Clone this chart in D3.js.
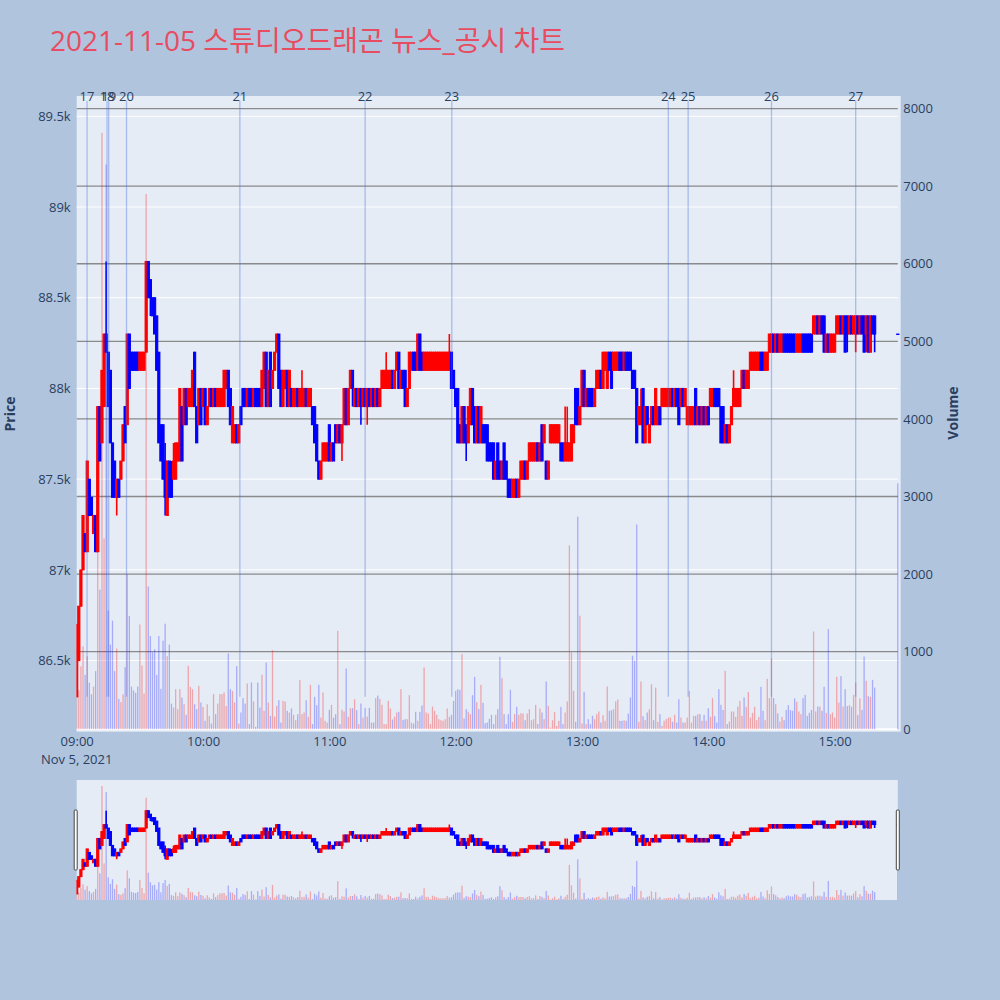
<!DOCTYPE html>
<html><head><meta charset="utf-8">
<script src="https://cdnjs.cloudflare.com/ajax/libs/d3/7.8.5/d3.min.js"></script>
<style>
body{margin:0;background:#b0c4de;}
svg{display:block;font-family:"Open Sans","Noto Sans CJK KR",sans-serif;}
</style>
</head><body>
<svg id="chart" width="1000" height="1000"></svg>
<script>
// ---------------- DATA ----------------
const chartTitle = "2021-11-05 스튜디오드래곤 뉴스_공시 차트";
const sessionDate = "2021-11-05";
const sessionStart = "09:00";          // first 1-minute candle
const closingAuctionTime = "15:30";    // last (closing auction) candle
const axisStart = "09:00", axisEnd = "15:30";

const openPrice = [
86300,86500,86800,87000,87200,87100,87500,87400,87200,87300,
87100,87900,87700,87900,88300,88200,88100,87700,87600,87400,
87500,87500,87600,87900,87800,88300,88200,88200,88200,88200,
88100,88100,88100,88200,88700,88600,88500,88500,88400,88200,
87800,87800,87600,87300,87600,87500,87500,87500,87600,87600,
87900,87800,88000,87900,87900,87900,88200,87900,87800,88000,
87900,88000,87800,87900,88000,87900,88000,87900,87900,87900,
87900,88000,88100,88000,87700,87700,87800,87700,87900,88000,
88000,87900,88000,88000,87900,88000,88000,88000,87900,88000,
88200,87900,88200,88000,88100,88200,88300,88100,87900,88000,
88100,87900,88000,87900,87900,88000,87900,87900,87900,88000,
87900,87900,87900,87900,87800,87600,87500,87600,87600,87600,
87800,87600,87700,87800,87700,87800,87700,87800,88000,87800,
88000,88100,87900,88000,87900,88000,87900,88000,87900,88000,
87900,88000,87900,88000,87900,88000,88000,88000,88000,88000,
88100,88000,88100,88200,88000,88100,88100,87900,88000,88100,
88200,88200,88100,88300,88200,88100,88100,88100,88100,88100,
88100,88100,88100,88100,88100,88100,88100,88100,88200,88100,
88000,88000,87800,87700,87900,87800,87700,87800,88000,87900,
87700,87900,87700,87800,87800,87800,87700,87700,87700,87500,
87700,87600,87500,87700,87600,87500,87500,87400,87400,87500,
87400,87500,87500,87600,87500,87600,87600,87600,87600,87700,
87600,87800,87700,87600,87500,87700,87700,87700,87700,87700,
87700,87700,87600,87600,87600,87600,87700,88000,88000,87800,
87900,88100,87900,88000,88000,88000,87900,88000,88000,88100,
88000,88100,88000,88200,88200,88100,88100,88100,88200,88200,
88100,88200,88200,88200,88100,88100,88000,87800,87800,88000,
87700,87900,87700,87800,87900,87800,87800,87900,87900,87900,
87900,87900,87900,88000,87900,88000,88000,87900,88000,87900,
87800,87800,87800,87800,88000,87800,87900,87800,87900,87800,
87900,87900,87900,88000,88000,88000,87900,87900,87700,87800,
87700,87800,87900,87900,87900,87900,88000,88100,88000,88000,
88100,88100,88100,88100,88100,88200,88200,88100,88100,88200,
88200,88300,88200,88300,88200,88200,88300,88300,88300,88300,
88300,88300,88200,88200,88200,88300,88300,88300,88300,88300,
88300,88300,88400,88300,88400,88400,88200,88300,88200,88200,
88200,88300,88300,88400,88300,88400,88400,88300,88400,88300,
88300,88400,88300,88400,88400,88300,88400,88200,88400,88400,
88300];

const highPrice = [
86700,86800,87000,87300,87200,87600,87500,87400,87300,87300,
87900,87900,88100,88300,88700,88200,88100,87700,87600,87500,
87500,87600,87800,87900,88300,88300,88200,88200,88200,88200,
88200,88200,88200,88700,88700,88600,88500,88500,88400,88200,
87800,87800,87700,87600,87600,87600,87700,87700,87700,88000,
87900,88000,88000,88000,88000,88100,88200,87900,88000,88000,
88000,88000,87900,88000,88000,88000,88000,88000,88000,88000,
88100,88100,88100,88000,87900,87800,87800,87800,87900,88000,
88000,88000,88000,88000,88000,88000,88000,88000,88100,88200,
88200,88100,88200,88100,88200,88300,88300,88100,88100,88100,
88100,88100,88000,88000,88000,88000,88000,88100,88000,88000,
88000,88000,87900,87900,87800,87600,87600,87700,87700,87700,
87800,87700,87700,87800,87800,87800,87800,88000,88000,88000,
88100,88100,88000,88000,88000,88000,88000,88000,88000,88000,
88000,88000,88000,88000,88000,88100,88100,88200,88100,88100,
88100,88100,88200,88200,88100,88100,88100,88000,88200,88200,
88200,88200,88300,88300,88200,88200,88200,88200,88200,88200,
88200,88200,88200,88200,88200,88200,88200,88300,88200,88100,
88000,88000,87800,87900,87900,87800,87900,88000,88000,87900,
87900,87900,87900,87800,87800,87800,87700,87700,87700,87600,
87700,87600,87600,87700,87600,87500,87500,87500,87500,87500,
87500,87600,87600,87600,87600,87700,87700,87700,87700,87700,
87700,87800,87800,87600,87600,87800,87800,87800,87800,87800,
87700,87700,87900,87900,87700,87800,87800,88000,88000,87900,
88100,88100,88000,88000,88000,88000,88000,88100,88100,88100,
88200,88200,88200,88200,88200,88200,88200,88200,88200,88200,
88200,88200,88200,88200,88100,88100,88000,87900,88000,88000,
87900,87900,87800,87900,87900,88000,87900,87900,88000,88000,
88000,88000,88000,88000,88000,88000,88000,88000,88000,88000,
87900,87900,87900,87900,88000,87900,87900,87900,87900,87900,
87900,88000,88000,88000,88000,88000,87900,87900,87800,87800,
87800,87900,88100,88000,88000,88000,88100,88100,88100,88100,
88200,88200,88200,88200,88200,88200,88200,88200,88200,88300,
88300,88300,88300,88300,88300,88300,88300,88300,88300,88300,
88300,88300,88300,88300,88300,88300,88300,88300,88300,88300,
88400,88400,88400,88400,88400,88400,88300,88300,88300,88300,
88300,88400,88400,88400,88400,88400,88400,88400,88400,88400,
88400,88400,88400,88400,88400,88400,88400,88400,88400,88400,
88300];

const lowPrice = [
86300,86500,86800,87000,87100,87100,87300,87300,87200,87100,
87100,87600,87700,87900,88200,87900,87700,87400,87400,87300,
87400,87500,87600,87700,87800,88000,88100,88100,88100,88100,
88100,88100,88100,88200,88500,88400,88400,88300,88100,87700,
87600,87500,87300,87300,87400,87400,87500,87500,87600,87600,
87600,87800,87800,87900,87900,87900,87900,87700,87800,87800,
87900,87800,87800,87900,87900,87900,87900,87900,87900,87900,
87900,88000,87900,87800,87700,87700,87700,87700,87800,87900,
87900,87900,87900,87900,87900,87900,87900,87900,87900,88000,
87900,87900,87900,88000,88100,88200,88000,87900,87900,88000,
87900,87900,87900,87900,87900,87900,87900,87900,87900,87900,
87900,87900,87800,87700,87600,87500,87500,87600,87600,87600,
87600,87600,87600,87700,87700,87700,87600,87800,87800,87800,
88000,87900,87900,87900,87900,87800,87900,87900,87800,87900,
87900,87900,87900,87900,87900,88000,88000,88000,88000,88000,
88000,88000,88100,88000,88000,88000,87900,87900,88000,88100,
88100,88100,88100,88100,88100,88100,88100,88100,88100,88100,
88100,88100,88100,88100,88100,88100,88100,88100,88000,88000,
87900,87700,87700,87700,87700,87600,87700,87800,87800,87700,
87700,87700,87700,87700,87700,87600,87600,87600,87500,87500,
87500,87500,87500,87500,87500,87400,87400,87400,87400,87400,
87400,87500,87500,87500,87500,87600,87600,87600,87600,87600,
87600,87600,87700,87500,87500,87700,87700,87700,87700,87700,
87600,87600,87600,87600,87600,87600,87700,87800,87800,87800,
87900,87900,87900,87900,87900,87900,87900,88000,88000,88000,
88000,88100,88000,88100,88000,88100,88100,88100,88100,88100,
88100,88100,88100,88100,88000,88000,87700,87800,87800,87700,
87700,87800,87700,87800,87800,87800,87800,87800,87900,87900,
87900,87900,87900,87900,87900,87900,87800,87900,87900,87900,
87800,87800,87800,87800,87800,87800,87800,87800,87800,87800,
87800,87900,87900,87900,87900,87900,87700,87700,87700,87700,
87700,87800,87900,87900,87900,87900,88000,88000,88000,88000,
88100,88100,88100,88100,88100,88100,88100,88100,88100,88200,
88200,88200,88200,88200,88200,88200,88200,88200,88200,88200,
88200,88200,88200,88200,88200,88200,88200,88200,88200,88200,
88300,88300,88300,88300,88300,88200,88200,88200,88200,88200,
88200,88300,88300,88300,88300,88200,88200,88300,88300,88300,
88200,88300,88300,88300,88200,88200,88200,88200,88300,88200,
88300];

const closePrice = [
86700,86800,87000,87300,87100,87600,87300,87300,87300,87100,
87900,87600,88100,88300,88200,87900,87700,87400,87400,87500,
87400,87600,87800,87700,88300,88000,88100,88100,88100,88100,
88200,88200,88200,88700,88500,88500,88400,88300,88100,87700,
87600,87500,87400,87600,87400,87400,87600,87700,87700,88000,
87600,88000,87800,88000,88000,88100,87900,87700,88000,87800,
88000,87800,87900,88000,87900,88000,87900,88000,88000,88000,
88100,88100,87900,87800,87900,87800,87700,87800,87800,87900,
87900,88000,87900,87900,88000,87900,87900,87900,88100,88200,
87900,88100,87900,88100,88200,88300,88000,87900,88100,88100,
87900,88100,87900,88000,88000,87900,88000,88000,88000,87900,
88000,88000,87800,87700,87600,87500,87600,87700,87700,87700,
87600,87700,87600,87700,87800,87700,87800,88000,87800,88000,
88100,88000,88000,87900,88000,87900,88000,87900,88000,87900,
88000,87900,88000,87900,88000,88100,88100,88100,88100,88100,
88000,88100,88200,88000,88100,88000,87900,88000,88200,88200,
88100,88100,88300,88100,88100,88200,88200,88200,88200,88200,
88200,88200,88200,88200,88200,88200,88200,88200,88000,88000,
87900,87700,87700,87900,87700,87700,87900,88000,87800,87700,
87900,87700,87900,87700,87700,87600,87600,87600,87500,87600,
87500,87500,87600,87500,87500,87400,87400,87500,87500,87400,
87500,87600,87600,87500,87600,87700,87700,87700,87700,87600,
87700,87600,87800,87500,87600,87800,87800,87800,87800,87800,
87600,87600,87700,87700,87700,87800,87800,87800,87800,87900,
88100,87900,88000,87900,87900,87900,88000,88100,88100,88000,
88200,88200,88200,88100,88000,88200,88200,88200,88100,88100,
88200,88100,88100,88100,88000,88000,87700,87900,87900,87700,
87900,87800,87800,87900,87800,88000,87900,87800,88000,88000,
88000,88000,88000,87900,88000,87900,87800,88000,87900,88000,
87900,87900,87900,87900,87800,87900,87800,87900,87800,87900,
87800,88000,88000,87900,87900,87900,87700,87700,87800,87700,
87800,87900,88000,88000,88000,88000,88100,88000,88100,88100,
88200,88200,88200,88200,88200,88100,88100,88200,88200,88300,
88300,88200,88300,88200,88300,88300,88200,88200,88200,88200,
88200,88200,88300,88300,88300,88200,88200,88200,88200,88200,
88400,88400,88300,88400,88300,88200,88300,88200,88300,88300,
88300,88400,88400,88300,88400,88200,88300,88400,88300,88400,
88400,88300,88400,88300,88200,88400,88200,88400,88300,88300,
88300];

const volume = [
1350,500,810,1066,700,940,600,450,550,750,
2930,1800,7690,2460,7280,1530,1090,1400,750,1040,
390,350,450,800,2000,1460,550,500,470,550,
1350,820,460,6900,1840,1200,990,1030,700,1200,
520,1140,1360,940,1090,330,280,516,258,516,
408,322,185,817,546,516,322,258,559,344,
288,108,322,172,73,452,194,331,452,452,
473,300,976,516,494,344,813,73,215,400,
331,589,65,602,357,30,602,280,701,237,
860,344,172,1019,163,301,374,86,365,357,
237,215,267,185,116,194,632,194,215,374,
159,572,65,417,310,572,150,473,108,86,
250,314,150,194,1268,65,250,228,783,159,
271,271,387,245,65,331,150,275,163,275,
86,86,400,434,391,314,65,65,365,267,
125,159,215,224,516,120,129,129,439,86,
73,224,108,224,305,795,215,202,65,292,
237,185,129,116,108,129,267,159,185,365,
494,516,507,967,138,258,224,194,439,675,
348,258,572,340,77,86,133,185,65,185,
258,933,658,194,65,194,507,95,194,288,
185,206,202,116,202,258,116,129,314,65,
267,215,129,615,301,22,116,224,43,108,
288,65,215,357,2370,989,494,95,2740,1462,
73,482,65,129,65,172,129,194,228,86,
181,108,550,237,245,258,357,383,108,108,
116,108,202,409,946,882,2640,95,615,168,
116,215,258,580,116,537,95,194,43,108,
129,150,150,95,185,86,387,150,86,86,
150,494,86,172,172,194,194,108,185,108,
271,159,400,168,86,516,314,249,752,65,
99,228,228,159,292,365,172,409,288,481,
150,211,288,116,159,546,237,116,649,400,
912,400,322,202,99,159,116,249,310,245,
237,396,353,228,194,400,443,172,211,249,
1260,228,292,292,237,546,211,1290,194,215,
150,675,344,684,292,516,297,310,288,443,
602,181,396,249,937,624,426,417,636,537,
3170];

const newsLabels = ["17","18","19","20","21","22","23","24","25","26","27"];
const newsTimes  = ["09:04:55","09:14:24","09:15:12","09:23:40","10:17:30","11:17:00",
                    "11:58:10","13:41:00","13:50:25","14:30:00","15:10:00"];

const priceTicks = [86500,87000,87500,88000,88500,89000,89500];
const priceTickLabels = ["86.5k","87k","87.5k","88k","88.5k","89k","89.5k"];
const volumeTicks = [0,1000,2000,3000,4000,5000,6000,7000,8000];
const timeTicks = ["09:00","10:00","11:00","12:00","13:00","14:00","15:00"];
const firstTickDateLabel = "Nov 5, 2021";

// ---------------- LAYOUT ----------------
const W = 1000, H = 1000;
const plot = {left: 76.7, right: 900.7, top: 96, bottom: 731.7};
const xRight = 897.8;
const slider = {left: 76.7, right: 897.8, top: 780, bottom: 900};
const upColor = "#ff0000", downColor = "#0000ff";
const textColor = "#2a3f5f";

const parseHM = d3.timeParse("%Y-%m-%d %H:%M");
const parseHMS = d3.timeParse("%Y-%m-%d %H:%M:%S");
const t0 = parseHM(sessionDate + " " + sessionStart);
const nCont = openPrice.length - 1;
const data = openPrice.map((o, i) => ({
  t: i < nCont ? d3.timeMinute.offset(t0, i) : parseHM(sessionDate + " " + closingAuctionTime),
  o, h: highPrice[i], l: lowPrice[i], c: closePrice[i], v: volume[i]
}));

const x = d3.scaleTime()
  .domain([parseHM(sessionDate + " " + axisStart), parseHM(sessionDate + " " + axisEnd)])
  .range([plot.left, xRight]);
const yP = d3.scaleLinear().domain([86500, 89500]).range([660.6, 116.3]);
const yV = d3.scaleLinear().domain([0, 8000]).range([729.2, 108.6]);
const xS = x.copy().range([slider.left, slider.right]);
const ySP = d3.scaleLinear().domain([86300, 88700]).range([894, 810.7]);
const ySV = d3.scaleLinear().domain([0, 8000]).range([900, 781.4]);

const svg = d3.select("#chart");
svg.append("rect").attr("width", W).attr("height", H).attr("fill", "#b0c4de");

// title
svg.append("text").attr("x", 50).attr("y", 51)
  .attr("font-size", 28).attr("fill", "rgb(232,76,96)").text(chartTitle);

// main plot background
svg.append("rect").attr("x", plot.left).attr("y", plot.top)
  .attr("width", plot.right - plot.left).attr("height", plot.bottom - plot.top)
  .attr("fill", "#e5ecf6");

const defs = svg.append("defs");
defs.append("clipPath").attr("id", "clipMain").append("rect")
  .attr("x", plot.left).attr("y", plot.top)
  .attr("width", plot.right - plot.left).attr("height", plot.bottom - plot.top);
defs.append("clipPath").attr("id", "clipSlider").append("rect")
  .attr("x", slider.left).attr("y", slider.top)
  .attr("width", slider.right - slider.left).attr("height", slider.bottom - slider.top);

// gridlines
const grid = svg.append("g");
grid.selectAll(".pg").data(priceTicks).join("line")
  .attr("x1", plot.left).attr("x2", xRight)
  .attr("y1", d => yP(d)).attr("y2", d => yP(d))
  .attr("stroke", "#ffffff").attr("stroke-width", 1);
grid.selectAll(".vg").data(volumeTicks.filter(d => d > 0)).join("line")
  .attr("x1", plot.left).attr("x2", xRight)
  .attr("y1", d => yV(d)).attr("y2", d => yV(d))
  .attr("stroke", "#8a8a8a").attr("stroke-width", 1.3);
grid.append("line").attr("x1", plot.left).attr("x2", xRight)
  .attr("y1", yV(0)).attr("y2", yV(0)).attr("stroke", "#ffffff").attr("stroke-width", 2);

// candles + volume drawing helper
function drawSeries(g, xs, yp, yv, bodyW) {
  const color = d => d.c > d.o ? upColor : downColor;
  g.selectAll(".wick").data(data).join("line")
    .attr("x1", d => xs(d.t)).attr("x2", d => xs(d.t))
    .attr("y1", d => yp(d.h)).attr("y2", d => yp(d.l))
    .attr("stroke", color).attr("stroke-width", 1.6);
  g.selectAll(".body").data(data).join("rect")
    .attr("x", d => xs(d.t) - bodyW / 2).attr("width", bodyW)
    .attr("y", d => Math.min(yp(d.o), yp(d.c)))
    .attr("height", d => Math.max(0.5, Math.abs(yp(d.o) - yp(d.c))))
    .attr("fill", color).attr("stroke", color).attr("stroke-width", 1);
  g.selectAll(".vol").data(data).join("rect")
    .attr("x", d => xs(d.t) - 0.65).attr("width", 1.3)
    .attr("y", d => yv(d.v)).attr("height", d => yv(0) - yv(d.v))
    .attr("fill", d => d.c > d.o ? "rgba(255,0,0,0.3)" : "rgba(0,0,255,0.27)");
}

const main = svg.append("g").attr("clip-path", "url(#clipMain)");
drawSeries(main, x, yP, yV, 2.2);

// news lines
const news = newsTimes.map((s, i) => ({label: newsLabels[i], t: parseHMS(sessionDate + " " + s)}));
svg.append("g").selectAll("line").data(news).join("line")
  .attr("x1", d => x(d.t)).attr("x2", d => x(d.t))
  .attr("y1", 100.7).attr("y2", 696.7)
  .attr("stroke", "rgb(65,105,225)").attr("stroke-opacity", 0.38).attr("stroke-width", 1.3);
svg.append("g").selectAll("text").data(news).join("text")
  .attr("x", d => x(d.t)).attr("y", 100.5)
  .attr("text-anchor", "middle").attr("font-size", 13).attr("fill", textColor)
  .text(d => d.label);

// axes
const axisLeft = d3.axisLeft(yP).tickValues(priceTicks)
  .tickFormat((d, i) => priceTickLabels[i]).tickSize(0).tickPadding(6);
const gl = svg.append("g").attr("transform", `translate(${plot.left},0)`).call(axisLeft);
const axisRight = d3.axisRight(yV).tickValues(volumeTicks)
  .tickFormat(d3.format("d")).tickSize(0).tickPadding(2.5);
const gr = svg.append("g").attr("transform", `translate(${plot.right},0)`).call(axisRight);
const axisBottom = d3.axisBottom(x)
  .tickValues(timeTicks.map(s => parseHM(sessionDate + " " + s)))
  .tickFormat(d3.timeFormat("%H:%M")).tickSize(0).tickPadding(5);
const gb = svg.append("g").attr("transform", `translate(0,${plot.bottom})`).call(axisBottom);
[gl, gr, gb].forEach(g => {
  g.select(".domain").remove();
  g.selectAll("text").attr("font-size", 13).attr("fill", textColor)
    .attr("font-family", '"Open Sans", sans-serif');
});
svg.append("text").attr("x", x(parseHM(sessionDate + " " + timeTicks[0]))).attr("y", 764)
  .attr("text-anchor", "middle").attr("font-size", 13).attr("fill", textColor)
  .text(firstTickDateLabel);

// axis titles
svg.append("text").attr("transform", "translate(15,414) rotate(-90)")
  .attr("text-anchor", "middle").attr("font-size", 14).attr("font-weight", "bold")
  .attr("fill", textColor).text("Price");
svg.append("text").attr("transform", "translate(958,413) rotate(-90)")
  .attr("text-anchor", "middle").attr("font-size", 14).attr("font-weight", "bold")
  .attr("fill", textColor).text("Volume");

// range slider
svg.append("rect").attr("x", slider.left).attr("y", slider.top)
  .attr("width", slider.right - slider.left).attr("height", slider.bottom - slider.top)
  .attr("fill", "#e5ecf6");
const sg = svg.append("g").attr("clip-path", "url(#clipSlider)");
drawSeries(sg, xS, ySP, ySV, 2.2);
[slider.left - 2.5, slider.right - 1.5].forEach(hx => {
  svg.append("rect").attr("x", hx).attr("y", 810).attr("width", 3).attr("height", 60)
    .attr("fill", "#ffffff").attr("stroke", "#444").attr("stroke-width", 1).attr("rx", 1);
});
</script>
</body></html>
